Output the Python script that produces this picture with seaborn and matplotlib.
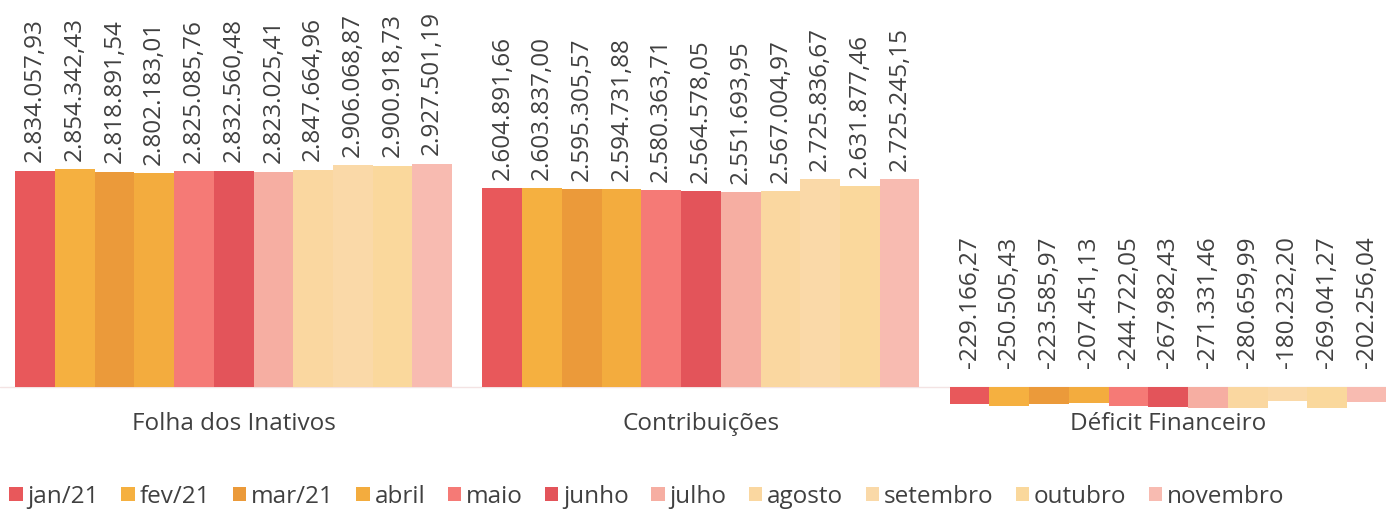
import numpy as np
import pandas as pd
import matplotlib.pyplot as plt
import seaborn as sns

sns.set_style("white")
plt.rcParams['font.family'] = ['Open Sans', 'DejaVu Sans']

# Data
categorias = ['Folha dos Inativos', 'Contribuições', 'Déficit Financeiro']
meses = ['jan/21', 'fev/21', 'mar/21', 'abril', 'maio', 'junho', 'julho',
         'agosto', 'setembro', 'outubro', 'novembro']
folha = [2834057.93, 2854342.43, 2818891.54, 2802183.01, 2825085.76, 2832560.48,
         2823025.41, 2847664.96, 2906068.87, 2900918.73, 2927501.19]
contribuicoes = [2604891.66, 2603837.00, 2595305.57, 2594731.88, 2580363.71, 2564578.05,
                 2551693.95, 2567004.97, 2725836.67, 2631877.46, 2725245.15]
deficit = [-229166.27, -250505.43, -223585.97, -207451.13, -244722.05, -267982.43,
           -271331.46, -280659.99, -180232.20, -269041.27, -202256.04]
cores = ['#E8585B', '#F5B040', '#EB9A3A', '#F3AC3E', '#F57A76', '#E3545A',
         '#F6AEA2', '#FAD7A0', '#FAD9A8', '#FAD89C', '#F8BBB1']

df = pd.DataFrame({
    'categoria': np.repeat(categorias, len(meses)),
    'mes': meses * 3,
    'valor': folha + contribuicoes + deficit,
})

def br(v):
    s = f"{v:,.2f}"
    return s.replace(',', 'X').replace('.', ',').replace('X', '.')

fig = plt.figure(figsize=(13.86, 5.12), dpi=100)
ax = fig.add_axes([0, 0.195, 1, 0.805])
sns.barplot(data=df, x='categoria', y='valor', hue='mes', palette=cores,
            width=0.935, gap=0, saturation=1, linewidth=0, ax=ax, legend=True)

# value labels, rotated, above the bar top (or above zero for the negative ones)
for cont in ax.containers:
    for bar in cont:
        v = bar.get_height()
        x = bar.get_x() + bar.get_width() / 2
        off = 6 if v > 0 else 14
        ax.annotate(br(v), (x, max(v, 0)), xytext=(0, off), textcoords='offset points',
                    rotation=90, ha='center', va='bottom', fontsize=17.5, color='#404040')

ax.axhline(0, color='#f3e3e3', lw=1, zorder=0)
ax.set_xlim(-0.5, 2.466)
ax.set_ylim(-330000, 5070000)
ax.set_yticks([])
ax.set_xlabel('')
ax.set_ylabel('')
ax.tick_params(axis='x', length=0, labelsize=17.5, labelcolor='#404040', pad=0)
sns.despine(ax=ax, left=True, bottom=True)

handles, labels = ax.get_legend_handles_labels()
ax.get_legend().remove()
fig.legend(handles, labels, ncol=11, loc='center left', bbox_to_anchor=(-0.009, 0.03),
           frameon=False, fontsize=17.5, handlelength=0.55, handleheight=0.55,
           handletextpad=0.2, columnspacing=0.92, labelcolor='#404040')

fig.savefig('out.png', dpi=100)
